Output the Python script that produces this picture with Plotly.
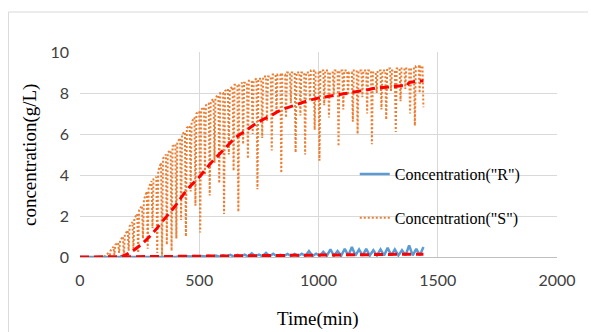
import plotly.graph_objects as go

# ---- data ----
S_time = [0, 100,
          120, 124, 128, 140, 144, 148, 160, 164, 168, 180, 184, 188, 200, 204, 208, 220, 224, 228,
          240, 244, 248, 260, 264, 268, 280, 284, 288, 300, 304, 308, 320, 324, 328, 340, 344, 348,
          360, 364, 368, 380, 384, 388, 400, 404, 408, 420, 424, 428, 440, 444, 448, 460, 464, 468,
          480, 484, 488, 500, 504, 508, 520, 524, 528, 540, 544, 548, 560, 564, 568, 580, 584, 588,
          600, 604, 608, 620, 624, 628, 640, 644, 648, 660, 664, 668, 680, 684, 688, 700, 704, 708,
          720, 724, 728, 740, 744, 748, 760, 764, 768, 780, 784, 788, 800, 804, 808, 820, 824, 828,
          840, 844, 848, 860, 864, 868, 880, 884, 888, 900, 904, 908, 920, 924, 928, 940, 944, 948,
          960, 964, 968, 980, 984, 988, 1000, 1004, 1008, 1020, 1024, 1028, 1040, 1044, 1048,
          1060, 1064, 1068, 1080, 1084, 1088, 1100, 1104, 1108, 1120, 1124, 1128, 1140, 1144, 1148,
          1160, 1164, 1168, 1180, 1184, 1188, 1200, 1204, 1208, 1220, 1224, 1228, 1240, 1244, 1248,
          1260, 1264, 1268, 1280, 1284, 1288, 1300, 1304, 1308, 1320, 1324, 1328, 1340, 1344, 1348,
          1360, 1364, 1368, 1380, 1384, 1388, 1400, 1404, 1408, 1420, 1424, 1428, 1436, 1440]
S_conc = [0, 0,
          0.2, 0.0, 0.3, 0.5, 0.1, 0.6, 0.7, 0.2, 0.8, 1.0, 0.0, 1.1, 1.3, 0.3, 1.5, 1.7, 0.4, 1.9,
          2.1, 0.2, 2.3, 2.5, 0.9, 2.8, 3.2, 0.4, 3.4, 3.7, 1.4, 3.8, 3.9, 0.2, 4.2, 4.6, 0.0, 4.8,
          5.0, 0.6, 5.1, 5.2, 0.3, 5.4, 5.5, 0.9, 5.6, 5.8, 1.8, 6.0, 6.1, 1.0, 6.3, 6.4, 3.2, 6.6,
          6.8, 2.5, 7.0, 7.1, 1.2, 7.2, 7.3, 4.0, 7.4, 7.5, 3.0, 7.6, 7.7, 4.6, 7.8, 7.9, 3.6, 8.0,
          8.0, 2.1, 8.1, 8.2, 5.0, 8.2, 8.3, 4.2, 8.4, 8.4, 2.2, 8.4, 8.5, 5.5, 8.5, 8.5, 4.8, 8.6,
          8.6, 6.0, 8.6, 8.7, 3.3, 8.7, 8.7, 5.8, 8.8, 8.8, 6.6, 8.8, 8.8, 5.2, 8.9, 8.9, 7.0, 8.9,
          8.9, 4.1, 8.9, 8.9, 6.8, 9.0, 9.0, 7.5, 9.0, 9.0, 5.1, 9.0, 9.0, 6.9, 9.0, 9.0, 5.0, 9.0,
          9.0, 7.6, 9.1, 9.1, 6.2, 9.0, 9.0, 4.7, 9.1, 9.1, 7.4, 9.1, 9.1, 6.8, 9.0,
          9.0, 7.9, 9.1, 9.1, 5.4, 9.1, 9.1, 7.2, 9.1, 9.1, 7.9, 9.0, 9.0, 6.6, 9.1,
          9.1, 6.0, 9.1, 9.1, 7.8, 9.1, 9.1, 7.0, 9.1, 9.1, 5.5, 9.0, 9.0, 8.0, 9.1,
          9.1, 7.2, 9.1, 9.1, 6.7, 9.2, 9.2, 8.1, 9.1, 9.1, 6.1, 9.2, 9.2, 7.6, 9.2,
          9.2, 8.2, 9.2, 9.2, 7.0, 9.2, 9.2, 6.4, 9.3, 9.3, 8.0, 9.3, 9.3, 7.3]

S_trend_time = [170, 200, 250, 300, 350, 400, 450, 500, 550, 600, 650, 700, 750, 800, 850, 900, 950,
                1000, 1050, 1100, 1150, 1200, 1250, 1300, 1350, 1370, 1380, 1400, 1440]
S_trend = [0.0, 0.15, 0.55, 1.1, 1.8, 2.5, 3.3, 3.9, 4.6, 5.2, 5.8, 6.2, 6.6, 6.9, 7.2, 7.4, 7.6,
           7.75, 7.85, 7.95, 8.05, 8.15, 8.25, 8.3, 8.35, 8.35, 8.5, 8.55, 8.6]

R_time = [0, 15, 30, 45, 60, 75, 90, 105, 120, 135, 150, 165, 180, 195, 210, 225, 240, 255, 270, 285,
          300, 315, 330, 345, 360, 375, 390, 405, 420, 435, 450, 465, 480, 495, 510, 525, 540, 555, 570, 585,
          600, 615, 630, 645, 660, 675, 690, 705, 720, 735, 750, 765, 780, 795, 810, 825, 840, 855, 870, 885,
          900, 915, 930, 945, 960, 975, 990, 1005, 1020, 1035, 1050, 1065, 1080, 1095, 1110, 1125, 1140, 1155,
          1170, 1185, 1200, 1215, 1230, 1245, 1260, 1275, 1290, 1305, 1320, 1335, 1350, 1365, 1380, 1395,
          1410, 1425, 1440]
R_conc = [0, 0, 0, 0, 0, 0, 0, 0, 0, 0, 0, 0, 0, 0, 0, 0, 0, 0, 0, 0,
          0, 0.01, 0.02, 0.01, 0.03, 0.01, 0.03, 0.01, 0.04, 0.01, 0.04, 0.02, 0.05, 0.02, 0.05, 0.02, 0.06, 0.02, 0.07, 0.02,
          0.08, 0.03, 0.10, 0.03, 0.10, 0.03, 0.12, 0.03, 0.18, 0.04, 0.12, 0.04, 0.20, 0.04, 0.16, 0.04, 0.11, 0.05, 0.15, 0.05,
          0.15, 0.05, 0.16, 0.05, 0.29, 0.05, 0.16, 0.06, 0.25, 0.06, 0.37, 0.06, 0.29, 0.06, 0.40, 0.07, 0.49, 0.07,
          0.37, 0.07, 0.40, 0.07, 0.33, 0.08, 0.37, 0.08, 0.45, 0.08, 0.37, 0.08, 0.33, 0.08, 0.57, 0.08,
          0.40, 0.08, 0.49]

R_trend_time = [0, 100, 200, 300, 400, 500, 600, 700, 800, 900, 1000, 1100, 1200, 1300, 1400, 1440]
R_trend = [0.0, 0.0, 0.01, 0.02, 0.03, 0.04, 0.05, 0.06, 0.08, 0.09, 0.10, 0.10, 0.11, 0.12, 0.13, 0.14]

x_ticks = [0, 500, 1000, 1500, 2000]
y_ticks = [0, 2, 4, 6, 8, 10]

ORANGE = "#ED7D31"
BLUE = "#5B9BD5"
RED = "#FF0000"
GRID = "#D9D9D9"
SERIF = "Liberation Serif, Times New Roman, serif"
SANS = "Lato, Liberation Sans, sans-serif"

fig = go.Figure()
fig.add_trace(go.Scatter(x=S_time, y=S_conc, mode="lines", name='Concentration("S")',
                         line=dict(color=ORANGE, width=2, dash="2px,2px"),
                         legendgroup="S", legendrank=2))
fig.add_trace(go.Scatter(x=S_trend_time, y=S_trend, mode="lines", showlegend=False,
                         line=dict(color=RED, width=3, dash="9px,5px", shape="spline")))
fig.add_trace(go.Scatter(x=R_time, y=R_conc, mode="lines", name='Concentration("R")',
                         line=dict(color=BLUE, width=2.5), legendgroup="R", legendrank=1))
fig.add_trace(go.Scatter(x=R_trend_time, y=R_trend, mode="lines", showlegend=False,
                         line=dict(color=RED, width=3, dash="9px,5px")))

# page body has an 8px default margin, so the figure is 8px smaller than the window
fig.update_layout(
    width=588, height=324,
    margin=dict(l=72, r=39, t=44, b=75, autoexpand=False),
    paper_bgcolor="white", plot_bgcolor="white",
    showlegend=True,
    legend=dict(x=0.576, y=0.487, xanchor="left", yanchor="top",
                bgcolor="rgba(0,0,0,0)", font=dict(family=SERIF, size=16, color="#000000"),
                tracegroupgap=20, traceorder="grouped"),
    xaxis=dict(range=[0, 2000], tickvals=x_ticks, showgrid=True, gridcolor=GRID, gridwidth=1,
               zeroline=False, showline=False, ticks="", automargin=False, ticklabelstandoff=12,
               tickfont=dict(family=SANS, size=16, color="#404040")),
    yaxis=dict(range=[0, 10], tickvals=y_ticks, showgrid=True, gridcolor=GRID, gridwidth=1,
               zeroline=True, zerolinecolor="#BFBFBF", zerolinewidth=1, showline=False, ticks="",
               automargin=False, ticklabelstandoff=10,
               tickfont=dict(family=SANS, size=16, color="#404040")),
    annotations=[
        dict(text="Time(min)", xref="paper", yref="paper", x=(318 - 80) / 477, y=(257 - 319) / 205,
             xanchor="center", yanchor="middle", showarrow=False,
             font=dict(family=SERIF, size=19, color="#000000")),
        dict(text="concentration(g/L)", xref="paper", yref="paper", x=(30 - 80) / 477, y=(257 - 155) / 205,
             xanchor="center", yanchor="middle", showarrow=False, textangle=-90,
             font=dict(family=SERIF, size=19, color="#000000")),
    ],
    shapes=[dict(type="rect", xref="paper", yref="paper", x0=-0.150, x1=1.09, y0=-0.6, y1=1.195,
                 line=dict(color=GRID, width=1), fillcolor="rgba(0,0,0,0)", layer="below")],
)

fig.write_html("out.html")
